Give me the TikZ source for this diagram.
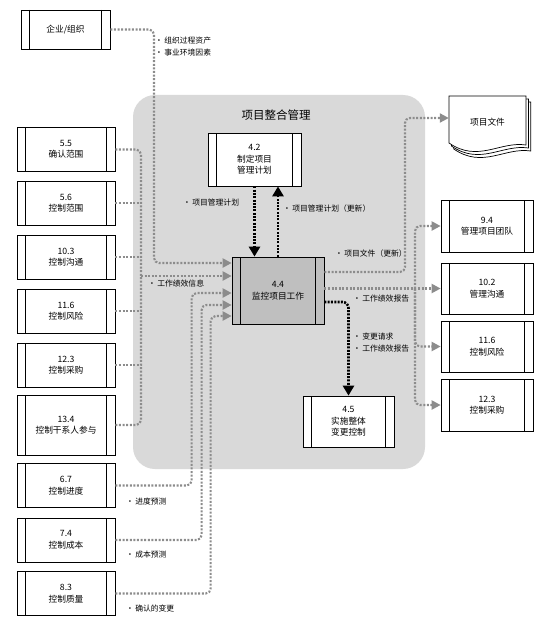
\documentclass[tikz,border=0pt]{standalone}
\usepackage{fontspec}
\setmainfont{Noto Sans CJK SC}
\usetikzlibrary{arrows.meta}

\begin{document}
\begin{tikzpicture}
[x=1pt,y=-1pt,
 every node/.style={font=\fontsize{8.7}{11.5}\selectfont},
 proc/.style={draw,line width=.7pt,fill=white,align=center,inner sep=0pt,
  path picture={\draw[line width=.7pt]
   ([xshift=8.5pt]path picture bounding box.north west) -- ([xshift=8.5pt]path picture bounding box.south west)
   ([xshift=-8.5pt]path picture bounding box.north east) -- ([xshift=-8.5pt]path picture bounding box.south east);}},
 lproc/.style={proc,minimum width=98pt,minimum height=44pt},
 rproc/.style={proc,minimum width=92pt,minimum height=51pt},
 lbl/.style={anchor=west,align=left,inner sep=0pt,font=\fontsize{7.8}{12.5}\selectfont},
 gline/.style={draw=gray!90,line width=2.1pt,dash pattern=on 2pt off 1.6pt,rounded corners=5pt},
 garrow/.style={gline,-{Triangle[length=9pt,width=9pt]}},
 barrow/.style={draw=black,line width=2.6pt,dash pattern=on 2pt off 1.3pt,rounded corners=6pt,-{Triangle[length=10pt,width=11pt]}}]
\useasboundingbox (0,0) rectangle (548,623);
\fill[gray!30,rounded corners=22pt] (133,95) rectangle (425,469);
\node[font=\fontsize{11.5}{12}\selectfont] (title) at (276,115) {项目整合管理};

\node[proc,minimum width=89pt,minimum height=39pt] (org) at (65.5,29.5) {企业/组织};
\node[lproc] (s55) at (66,149.5) {5.5\\确认范围};
\node[lproc] (s56) at (66,203) {5.6\\控制范围};
\node[lproc] (s103) at (66,257) {10.3\\控制沟通};
\node[lproc] (s116l) at (66,311) {11.6\\控制风险};
\node[lproc] (s123l) at (66,365) {12.3\\控制采购};
\node[lproc,minimum height=60pt] (s134) at (66,425) {13.4\\控制干系人参与};
\node[lproc] (s67) at (66,485.5) {6.7\\控制进度};
\node[lproc] (s74) at (66,540) {7.4\\控制成本};
\node[lproc] (s83) at (66,593.5) {8.3\\控制质量};

\node[proc,minimum width=93pt,minimum height=53pt] (p42) at (254.5,159.5) {4.2\\制定项目\\管理计划};
\node[proc,fill=gray!50,minimum width=92pt,minimum height=67pt] (p44) at (278,290.5) {4.4\\监控项目工作};
\node[proc,minimum width=91pt,minimum height=51pt] (p45) at (348.5,421.5) {4.5\\实施整体\\变更控制};

\foreach \k in {2,1,0}
\draw[line width=.7pt,fill=white,shift={(2.4*\k,3*\k)}] (449,96) -- (526,96) -- (526,145) .. controls (500,141) and (478,163) .. (449,143) -- cycle;
\node[minimum width=77pt,minimum height=52pt,inner sep=0pt] (docs) at (487.5,122) {项目文件};
\node[rproc,minimum height=52pt] (r94) at (487,226) {9.4\\管理项目团队};
\node[rproc] (r102) at (487,288.5) {10.2\\管理沟通};
\node[rproc] (r116r) at (487,346.5) {11.6\\控制风险};
\node[rproc,minimum height=52pt] (r123r) at (487,405) {12.3\\控制采购};

\draw[barrow] (p42.south) -- (p42.south |- p44.north);
\draw[barrow] (p44.north) -- (p44.north |- p42.south);
\draw[barrow] ([yshift=-11.5pt]p44.east) -| (p45.north);

\draw[garrow] (org.east) -| (154,263) -- ([yshift=27.5pt]p44.west);
\coordinate (wpi) at (141,276);
\draw[gline] (s55.east) -| (wpi);
\draw[gline] (s134.east) -| (wpi);
\foreach \s in {s56,s103,s116l,s123l}
\draw[gline] (\s.east) -- (\s.east -| wpi);
\draw[garrow] (wpi) -- (p44.west |- wpi);
\foreach \s/\dx/\dy in {s67/40/-2.5,s74/30/-14.5,s83/21/-25.5}
\draw[garrow] (\s.east) -| ([xshift=-\dx pt,yshift=\dy pt]p44.west) -- ([yshift=\dy pt]p44.west);

\draw[garrow] ([yshift=18.5pt]p44.east) -| (405,118) -- ([yshift=4pt]docs.west);
\coordinate (rwr) at (415,288.5);
\draw[garrow] (p44.east |- r102.west) -- (r102.west);
\foreach \d in {r94,r116r,r123r}
\draw[garrow] (rwr) |- (\d.west);

\node[lbl] (l1) at (155,46.5) {•\,组织过程资产\\•\,事业环境因素};
\node[lbl] (l2) at (183,203) {•\,项目管理计划};
\node[lbl] (l3) at (283,209) {•\,项目管理计划（更新）};
\node[lbl] (l4) at (335,254) {•\,项目文件（更新）};
\node[lbl] (l5) at (353,299) {•\,工作绩效报告};
\node[lbl] (l6) at (353,342.5) {•\,变更请求\\•\,工作绩效报告};
\node[lbl] (l7) at (148,284) {•\,工作绩效信息};
\node[lbl] (l8) at (126,502) {•\,进度预测};
\node[lbl] (l9) at (126,555) {•\,成本预测};
\node[lbl] (l10) at (126,609) {•\,确认的变更};
\end{tikzpicture}
\end{document}
